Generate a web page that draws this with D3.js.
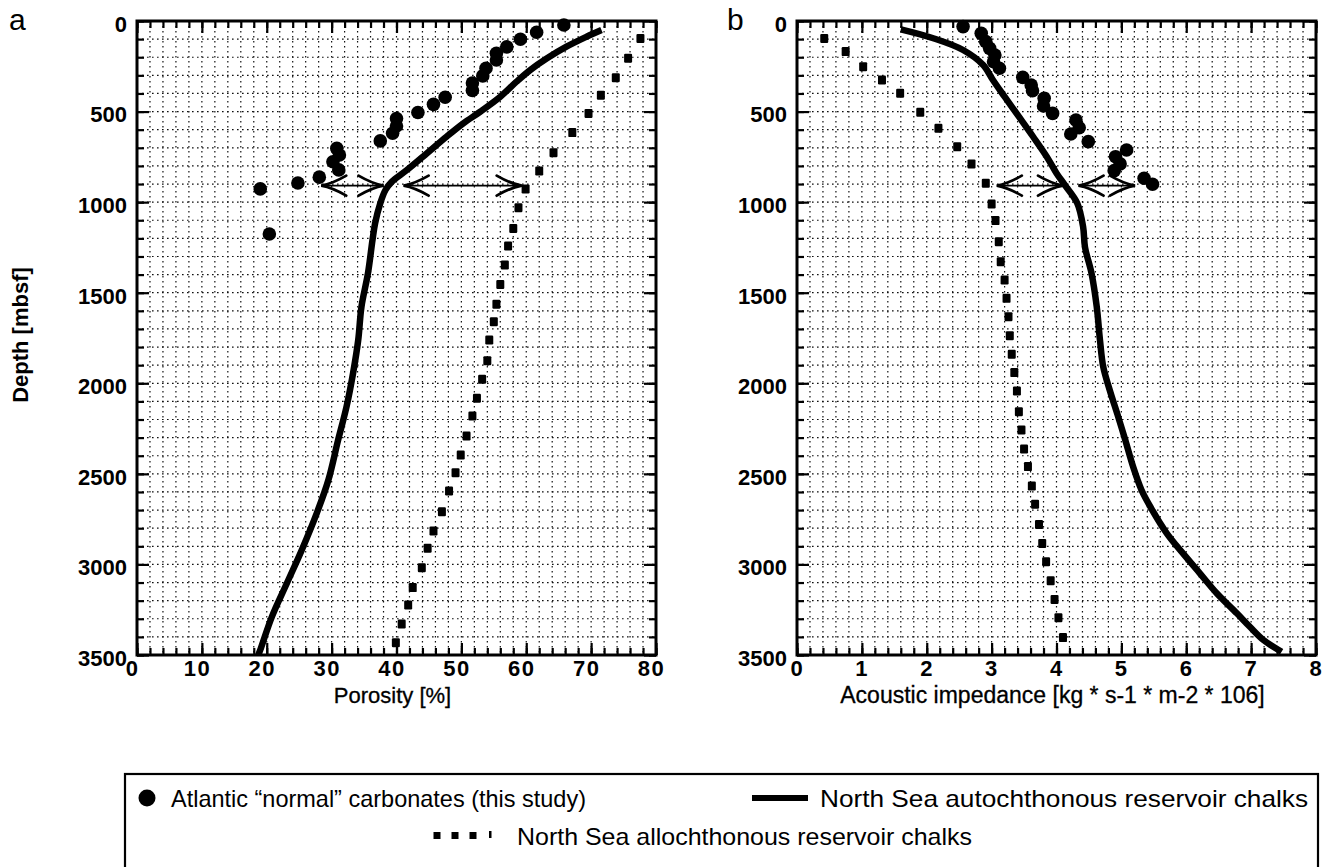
<!DOCTYPE html>
<html>
<head>
<meta charset="utf-8">
<script src="https://cdn.jsdelivr.net/npm/d3@7"></script>
<style>
  html, body { margin: 0; padding: 0; background: #fff; }
  svg text { font-family: "Liberation Sans", Arial, Helvetica, sans-serif; fill: #000; }
</style>
</head>
<body>
<svg id="chart" width="1323" height="867"></svg>
<script>
// ---------------- data ----------------
const depthTicks = [0, 500, 1000, 1500, 2000, 2500, 3000, 3500];
const porosityTicks = [0, 10, 20, 30, 40, 50, 60, 70, 80];
const impedanceTicks = [0, 1, 2, 3, 4, 5, 6, 7, 8];

// Atlantic "normal" carbonates: [porosity %, depth mbsf]
const atlanticPorosity = [
  [65.8, 22], [61.6, 62], [59.1, 101], [57.0, 143], [55.4, 178], [55.4, 215],
  [53.8, 261], [53.3, 303], [51.7, 342], [51.7, 384], [47.5, 421], [45.7, 460],
  [43.3, 505], [40.0, 538], [40.0, 580], [39.4, 620], [37.5, 662], [30.8, 703],
  [31.2, 740], [30.2, 777], [31.1, 822], [28.1, 862], [24.8, 894], [19.0, 927],
  [20.4, 1176]
];
// North Sea autochthonous reservoir chalks: [porosity %, depth mbsf]
const autochthonousPorosity = [
  [71.6, 50], [69.3, 87], [66.2, 142], [63.2, 206], [60.6, 271], [58.5, 335],
  [56.0, 418], [52.9, 501], [50.3, 565], [47.7, 639], [44.7, 730], [41.6, 823],
  [39.3, 887], [38.3, 933], [37.5, 1006], [36.7, 1117], [36.3, 1209], [35.6, 1393],
  [34.6, 1577], [34.1, 1761], [33.3, 1945], [32.3, 2129], [31.0, 2313], [29.5, 2534],
  [27.7, 2718], [25.4, 2920], [23.1, 3104], [20.8, 3288], [19.0, 3472], [18.7, 3500]
];
// North Sea allochthonous reservoir chalks: [porosity %, depth mbsf]
const allochthonousPorosity = [
  [77.6, 96], [75.7, 206], [73.8, 313], [71.5, 410], [69.6, 510], [67.1, 616],
  [64.2, 727], [62.0, 828], [59.9, 927], [58.8, 1031], [58.0, 1145], [57.2, 1242],
  [56.7, 1347], [56.0, 1454], [55.4, 1564], [55.0, 1660], [54.3, 1761], [54.0, 1875],
  [53.2, 1978], [52.4, 2083], [51.7, 2181], [50.8, 2291], [49.9, 2396], [49.1, 2494],
  [48.1, 2595], [47.0, 2709], [45.7, 2815], [44.8, 2911], [43.9, 3018], [42.5, 3128],
  [41.8, 3224], [40.8, 3329], [39.9, 3432]
];

// Atlantic "normal" carbonates: [acoustic impedance, depth mbsf]
const atlanticImpedance = [
  [2.56, 31], [2.84, 68], [2.91, 114], [2.97, 151], [3.05, 188], [3.03, 225],
  [3.12, 261], [3.48, 311], [3.61, 353], [3.63, 385], [3.81, 427], [3.80, 469],
  [3.94, 510], [4.30, 547], [4.35, 589], [4.22, 624], [4.49, 666], [5.08, 712],
  [4.91, 749], [4.98, 789], [4.89, 826], [5.35, 868], [5.48, 901]
];
// North Sea autochthonous reservoir chalks: [acoustic impedance, depth mbsf]
const autochthonousImpedance = [
  [1.60, 46], [2.10, 95], [2.56, 160], [2.87, 243], [3.02, 326], [3.20, 418],
  [3.44, 538], [3.64, 639], [3.85, 749], [4.00, 840], [4.13, 906], [4.32, 1006],
  [4.41, 1136], [4.44, 1250], [4.54, 1393], [4.62, 1577], [4.67, 1761], [4.72, 1908],
  [4.82, 2037], [4.95, 2184], [5.06, 2313], [5.18, 2460], [5.31, 2589], [5.46, 2690],
  [5.70, 2828], [5.95, 2939], [6.21, 3049], [6.47, 3159], [6.78, 3270], [6.98, 3344],
  [7.19, 3417], [7.47, 3482]
];
// North Sea allochthonous reservoir chalks: [acoustic impedance, depth mbsf]
const allochthonousImpedance = [
  [0.42, 96], [0.75, 169], [1.02, 252], [1.31, 326], [1.59, 399], [1.90, 504],
  [2.18, 592], [2.47, 694], [2.69, 789], [2.91, 896], [3.00, 1010], [3.06, 1102],
  [3.11, 1218], [3.14, 1329], [3.20, 1430], [3.23, 1531], [3.26, 1632], [3.28, 1737],
  [3.31, 1840], [3.35, 1941], [3.39, 2043], [3.42, 2157], [3.46, 2258], [3.50, 2363],
  [3.56, 2460], [3.62, 2567], [3.67, 2668], [3.73, 2779], [3.78, 2884], [3.84, 2985],
  [3.91, 3090], [3.97, 3193], [4.03, 3294], [4.10, 3404]
];

// contrast arrows at the ~900 m level: [from, to]
const arrowDepth = 909;
const porosityArrows = [[28.4, 38.0], [41.1, 59.3]];
const impedanceArrows = [[3.08, 4.10], [4.34, 5.21]];

const legendLabels = [
  "Atlantic \u201cnormal\u201d carbonates (this study)",
  "North Sea autochthonous reservoir chalks",
  "North Sea allochthonous reservoir chalks"
];

// ---------------- drawing ----------------
const svg = d3.select("#chart");
svg.append("rect").attr("width", 1323).attr("height", 867).attr("fill", "#fff");

const y = d3.scaleLinear().domain([0, 3500]).range([21, 655]);
const depthMinor = d3.range(0, 3501, 100);

function drawPanel(opt) {
  const x = d3.scaleLinear().domain(opt.domain).range([opt.left, opt.right]);
  const g = svg.append("g");
  const xMinor = d3.range(0, opt.domain[1] / opt.minor + 0.5).map(i => i * opt.minor);

  // dotted grid
  const grid = g.append("g").attr("stroke", "#111").attr("stroke-width", 1.2)
    .attr("stroke-dasharray", "1.6,3.4");
  grid.selectAll(".gv").data(xMinor).join("line")
    .attr("x1", d => x(d)).attr("x2", d => x(d))
    .attr("y1", y(0)).attr("y2", y(3500));
  grid.selectAll(".gh").data(depthMinor).join("line").attr("class", "gh")
    .attr("x1", x.range()[0]).attr("x2", x.range()[1])
    .attr("y1", d => y(d)).attr("y2", d => y(d));

  // inward ticks on all four sides
  const sides = [
    { gen: d3.axisBottom, scale: x, tr: `translate(0,${y(3500)})`, minor: xMinor, major: opt.ticks },
    { gen: d3.axisTop, scale: x, tr: `translate(0,${y(0)})`, minor: xMinor, major: opt.ticks },
    { gen: d3.axisLeft, scale: y, tr: `translate(${opt.left},0)`, minor: depthMinor, major: depthTicks },
    { gen: d3.axisRight, scale: y, tr: `translate(${opt.right},0)`, minor: depthMinor, major: depthTicks }
  ];
  sides.forEach(s => {
    const a1 = g.append("g").attr("transform", s.tr)
      .call(s.gen(s.scale).tickValues(s.minor).tickSize(-7).tickFormat(""));
    const a2 = g.append("g").attr("transform", s.tr)
      .call(s.gen(s.scale).tickValues(s.major).tickSize(-12).tickFormat(""));
    [a1, a2].forEach(a => {
      a.select(".domain").remove();
      a.selectAll("line").attr("stroke", "#000").attr("stroke-width", 2.2);
    });
  });

  // tick labels
  const bx = g.append("g").attr("transform", `translate(0,${y(3500)})`)
    .call(d3.axisBottom(x).tickValues(opt.ticks).tickSize(0).tickPadding(5).tickFormat(d3.format("d")));
  bx.select(".domain").remove();
  bx.attr("font-family", null);
  bx.selectAll("text").attr("font-size", 22).attr("font-weight", "bold")
    .attr("dx", opt.labelShift).attr("letter-spacing", opt.letterSpacing);

  const ly = g.append("g").attr("transform", `translate(${opt.left},0)`)
    .call(d3.axisLeft(y).tickValues(depthTicks).tickSize(0).tickPadding(10).tickFormat(d3.format("d")));
  ly.select(".domain").remove();
  ly.attr("font-family", null);
  ly.selectAll("text").attr("font-size", 22).attr("font-weight", "bold").attr("dy", "0.47em");

  // frame
  g.append("rect").attr("x", opt.left).attr("y", y(0))
    .attr("width", opt.right - opt.left).attr("height", y(3500) - y(0))
    .attr("fill", "none").attr("stroke", "#000").attr("stroke-width", 3);

  // autochthonous chalk trend (solid)
  const line = d3.line().x(d => x(d[0])).y(d => y(d[1])).curve(d3.curveCatmullRom.alpha(0.5));
  g.append("path").datum(opt.solid).attr("d", line)
    .attr("fill", "none").attr("stroke", "#000").attr("stroke-width", 6.5)
    .attr("stroke-linejoin", "round");

  // allochthonous chalk trend (dotted)
  g.append("g").selectAll("rect").data(opt.dotted).join("rect")
    .attr("x", d => x(d[0]) - 4).attr("y", d => y(d[1]) - 4.5)
    .attr("width", 8).attr("height", 9).attr("rx", 1.2).attr("fill", "#000");

  // Atlantic carbonates
  g.append("g").selectAll("circle").data(opt.points).join("circle")
    .attr("cx", d => x(d[0])).attr("cy", d => y(d[1])).attr("r", 6.8).attr("fill", "#000");

  // double-headed contrast arrows
  const ay = y(arrowDepth);
  const head = (tx, dir) => {
    const L = 25, W = 10;
    return `M${tx + dir * L},${ay - W} Q${tx + dir * L * 0.45},${ay - 2} ${tx},${ay}` +
           ` Q${tx + dir * L * 0.45},${ay + 2} ${tx + dir * L},${ay + W}`;
  };
  const ar = g.append("g");
  ar.selectAll("line").data(opt.arrows).join("line")
    .attr("x1", d => x(d[0])).attr("x2", d => x(d[1]))
    .attr("y1", ay).attr("y2", ay).attr("stroke", "#000").attr("stroke-width", 1.7);
  ar.selectAll("path").data(opt.arrows.flatMap(d => [[d[0], 1], [d[1], -1]])).join("path")
    .attr("d", d => head(x(d[0]), d[1]))
    .attr("fill", "none").attr("stroke", "#000").attr("stroke-width", 2.8)
    .attr("stroke-linecap", "round");

  // axis title and panel letter
  svg.append("text").attr("x", (opt.left + opt.right) / 2 + opt.titleShift).attr("y", 703)
    .attr("text-anchor", "middle").attr("font-size", opt.titleSize)
    .attr("stroke", "#000").attr("stroke-width", 0.3).text(opt.title);
  svg.append("text").attr("x", opt.letterX).attr("y", 30).attr("font-size", 30).text(opt.letter);
}

drawPanel({
  domain: [0, 80], left: 137, right: 656, minor: 2, ticks: porosityTicks,
  labelShift: -5, letterSpacing: 1.5,
  solid: autochthonousPorosity, dotted: allochthonousPorosity, points: atlanticPorosity,
  arrows: porosityArrows, title: "Porosity [%]", titleSize: 22, titleShift: -4,
  letter: "a", letterX: 9
});
drawPanel({
  domain: [0, 8], left: 797, right: 1316, minor: 0.2, ticks: impedanceTicks,
  labelShift: -1, letterSpacing: 0,
  solid: autochthonousImpedance, dotted: allochthonousImpedance, points: atlanticImpedance,
  arrows: impedanceArrows, title: "Acoustic impedance [kg * s-1 * m-2 * 106]",
  titleSize: 23, titleShift: -4, letter: "b", letterX: 727
});

// y-axis title
svg.append("text").attr("transform", "translate(28,335) rotate(-90)")
  .attr("text-anchor", "middle").attr("font-size", 22).attr("font-weight", "bold")
  .text("Depth [mbsf]");

// ---------------- legend ----------------
const lg = svg.append("g");
lg.append("rect").attr("x", 125).attr("y", 774).attr("width", 1193).attr("height", 120)
  .attr("fill", "none").attr("stroke", "#000").attr("stroke-width", 2.2);
lg.append("circle").attr("cx", 147).attr("cy", 798).attr("r", 8.5).attr("fill", "#000");
lg.append("text").attr("x", 171).attr("y", 807).attr("font-size", 24)
  .attr("textLength", 415).attr("lengthAdjust", "spacingAndGlyphs").text(legendLabels[0]);
lg.append("line").attr("x1", 752).attr("x2", 808).attr("y1", 798).attr("y2", 798)
  .attr("stroke", "#000").attr("stroke-width", 6);
lg.append("text").attr("x", 820).attr("y", 807).attr("font-size", 24)
  .attr("textLength", 488).attr("lengthAdjust", "spacingAndGlyphs").text(legendLabels[1]);
lg.selectAll(".sq").data([437, 455, 473]).join("rect")
  .attr("x", d => d - 3.5).attr("y", 832).attr("width", 7).attr("height", 7).attr("fill", "#000");
lg.append("rect").attr("x", 489).attr("y", 831).attr("width", 2.5).attr("height", 7).attr("fill", "#000");
lg.append("text").attr("x", 517).attr("y", 845).attr("font-size", 24)
  .attr("textLength", 455).attr("lengthAdjust", "spacingAndGlyphs").text(legendLabels[2]);
</script>
</body>
</html>
